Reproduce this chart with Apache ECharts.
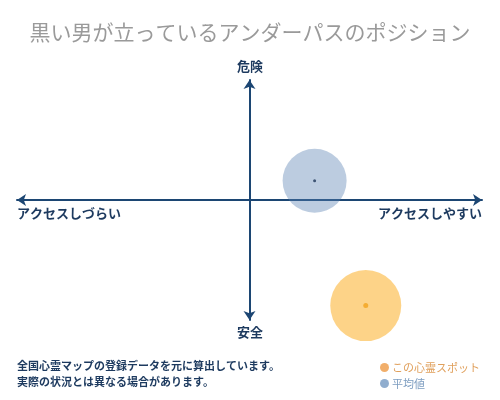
<!DOCTYPE html>
<html>
<head>
<meta charset="utf-8">
<title>黒い男が立っているアンダーパスのポジション</title>
<script src="https://cdn.jsdelivr.net/npm/echarts@6/dist/echarts.min.js"></script>
<style>
  html, body { margin: 0; padding: 0; background: #fff; }
  #chart { width: 500px; height: 400px; }
</style>
</head>
<body>
<div id="chart"></div>
<script>
// position values (x: access difficulty -> ease, y: safe -> danger)
const axisRange = [-10, 10];
const spotPoint = [5.0, -8.8];
const avgPoint = [2.8, 1.6];
const seriesNames = ['この心霊スポット', '平均値'];
const axisTexts = { top: '危険', bottom: '安全', left: 'アクセスしづらい', right: 'アクセスしやすい' };
const noteLines = ['全国心霊マップの登録データを元に算出しています。', '実際の状況とは異なる場合があります。'];

const navy = '#1c4673';
const font = '"Noto Sans CJK JP", sans-serif';

const chart = echarts.init(document.getElementById('chart'));

const axisBase = {
  type: 'value',
  min: axisRange[0],
  max: axisRange[1],
  splitLine: { show: false },
  axisTick: { show: false },
  axisLabel: { show: false },
  axisLine: {
    show: true,
    onZero: true,
    symbol: ['arrow', 'arrow'],
    symbolSize: [9, 9],
    lineStyle: { color: navy, width: 2 }
  }
};

chart.setOption({
  animation: false,
  title: {
    text: '黒い男が立っているアンダーパスのポジション',
    left: 'center',
    top: 17,
    textStyle: { fontFamily: font, fontSize: 21, fontWeight: 'normal', color: '#9a9a9a' }
  },
  grid: { left: 17, right: 18, top: 80, height: 240 },
  xAxis: axisBase,
  yAxis: axisBase,
  legend: {
    orient: 'vertical',
    left: 375,
    top: 357,
    icon: 'circle',
    itemWidth: 9,
    itemHeight: 9,
    itemGap: 5,
    textStyle: { fontFamily: font, fontSize: 11, padding: [0, 0, 0, -2] },
    data: [
      { name: seriesNames[0], itemStyle: { color: '#ee9a45' }, textStyle: { color: '#e0a05c' } },
      { name: seriesNames[1], itemStyle: { color: '#7499c2' }, textStyle: { color: '#7d9dc0' } }
    ]
  },
  series: [
    {
      name: seriesNames[0],
      type: 'scatter',
      data: [spotPoint],
      symbolSize: 71,
      itemStyle: { color: '#fdc86a' },
      z: 3
    },
    {
      name: seriesNames[1],
      type: 'scatter',
      data: [avgPoint],
      symbolSize: 64,
      itemStyle: { color: 'rgba(88,128,178,0.5)' },
      z: 3
    },
    {
      type: 'scatter',
      data: [spotPoint],
      symbolSize: 5,
      itemStyle: { color: '#f2a41e' },
      silent: true,
      z: 4
    },
    {
      type: 'scatter',
      data: [avgPoint],
      symbolSize: 3,
      itemStyle: { color: '#1d3557' },
      silent: true,
      z: 4
    }
  ],
  graphic: [
    {
      type: 'text', left: 'center', top: 60,
      style: { text: axisTexts.top, font: 'bold 13px ' + font, fill: '#1d3a5f' }
    },
    {
      type: 'text', left: 'center', top: 326,
      style: { text: axisTexts.bottom, font: 'bold 13px ' + font, fill: '#1d3a5f' }
    },
    {
      type: 'text', left: 17, top: 207,
      style: { text: axisTexts.left, font: 'bold 13px ' + font, fill: '#1d3a5f' }
    },
    {
      type: 'text', right: 18, top: 207,
      style: { text: axisTexts.right, font: 'bold 13px ' + font, fill: '#1d3a5f' }
    },
    {
      type: 'text', left: 17, top: 360,
      style: { text: noteLines[0], font: 'bold 11px ' + font, fill: '#1d3a5f' }
    },
    {
      type: 'text', left: 17, top: 376,
      style: { text: noteLines[1], font: 'bold 11px ' + font, fill: '#1d3a5f' }
    }
  ]
});
</script>
</body>
</html>
